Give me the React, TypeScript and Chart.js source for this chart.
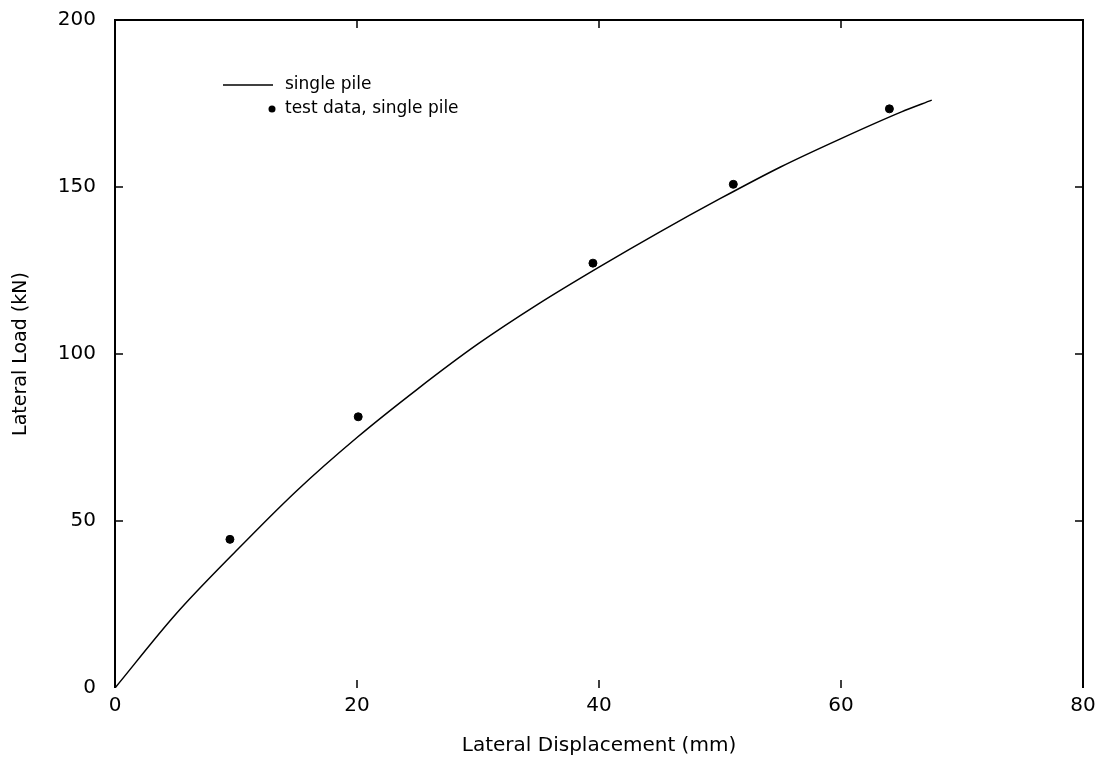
import React, { useEffect, useRef } from "react";
import { Chart, registerables } from "chart.js";

Chart.register(...registerables);

const curveX = [0, 5, 10, 15, 20, 25, 30, 35, 40, 45, 50, 55, 60, 65, 67.5];
const curveY = [0, 22, 41, 59, 75, 89.5, 103, 115, 126, 136.5, 146.5, 156, 164.5, 172.5, 176];
const testX = [9.5, 20.1, 39.5, 51.1, 64.0];
const testY = [44.5, 81.2, 127.2, 150.8, 173.4];
const xTicks = [0, 20, 40, 60, 80];
const yTicks = [0, 50, 100, 150, 200];
const seriesLabels = ["single pile", "test data, single pile"];
const xTitle = "Lateral Displacement (mm)";
const yTitle = "Lateral Load (kN)";

const FONT = "'DejaVu Sans', sans-serif";

const framePlugin = {
  id: "frame",
  afterDraw(chart: any) {
    const { ctx, chartArea } = chart;
    const xs = chart.scales.x;
    const ys = chart.scales.y;
    const { left, right, top, bottom } = chartArea;
    ctx.save();
    ctx.strokeStyle = "#000";
    ctx.lineWidth = 2;
    ctx.beginPath();
    ctx.moveTo(left, bottom);
    ctx.lineTo(left, top);
    ctx.lineTo(right, top);
    ctx.lineTo(right, bottom);
    ctx.stroke();
    ctx.lineWidth = 1.5;
    const t = 8;
    ctx.beginPath();
    for (const v of xTicks.slice(1, -1)) {
      const px = xs.getPixelForValue(v);
      ctx.moveTo(px, bottom);
      ctx.lineTo(px, bottom - t);
      ctx.moveTo(px, top);
      ctx.lineTo(px, top + t);
    }
    for (const v of yTicks.slice(1, -1)) {
      const py = ys.getPixelForValue(v);
      ctx.moveTo(left, py);
      ctx.lineTo(left + t, py);
      ctx.moveTo(right, py);
      ctx.lineTo(right - t, py);
    }
    ctx.stroke();

    // legend
    const lx = left + 108;
    const ly = top + 65;
    ctx.font = `17px ${FONT}`;
    ctx.fillStyle = "#000";
    ctx.textBaseline = "middle";
    ctx.textAlign = "left";
    ctx.lineWidth = 1.5;
    ctx.beginPath();
    ctx.moveTo(lx, ly);
    ctx.lineTo(lx + 50, ly);
    ctx.stroke();
    ctx.fillText(chart.data.datasets[0].label, lx + 62, ly);
    ctx.beginPath();
    ctx.arc(lx + 49, ly + 24, 3.5, 0, Math.PI * 2);
    ctx.fill();
    ctx.fillText(chart.data.datasets[1].label, lx + 62, ly + 24);
    ctx.restore();
  },
};

export default function App() {
  const ref = useRef<HTMLCanvasElement>(null);
  useEffect(() => {
    document.body.style.margin = "0";
    const chart = new Chart(ref.current!, {
      type: "scatter",
      data: {
        datasets: [
          {
            label: seriesLabels[0],
            data: curveX.map((x, i) => ({ x, y: curveY[i] })),
            showLine: true,
            borderColor: "#000",
            borderWidth: 1.5,
            pointRadius: 0,
            cubicInterpolationMode: "monotone",
          },
          {
            label: seriesLabels[1],
            data: testX.map((x, i) => ({ x, y: testY[i] })),
            showLine: false,
            backgroundColor: "#000",
            borderColor: "#000",
            pointRadius: 4,
          },
        ],
      },
      options: {
        animation: false,
        responsive: false,
        layout: { padding: { left: 0, right: 21, top: 20, bottom: 0 } },
        plugins: { legend: { display: false }, tooltip: { enabled: false } },
        scales: {
          x: {
            type: "linear",
            min: 0,
            max: 80,
            afterBuildTicks: (s: any) => {
              s.ticks = xTicks.map((v) => ({ value: v }));
            },
            afterFit: (s: any) => {
              s.height = 74;
              s.paddingLeft = 0;
              s.paddingRight = 0;
            },
            grid: { display: false, drawTicks: false },
            border: { display: false },
            ticks: { color: "#000", font: { family: FONT, size: 20 }, padding: 6, maxRotation: 0 },
            title: {
              display: true,
              text: xTitle,
              color: "#000",
              font: { family: FONT, size: 20 },
              padding: { top: 4, bottom: 4 },
            },
          },
          y: {
            type: "linear",
            min: 0,
            max: 200,
            afterBuildTicks: (s: any) => {
              s.ticks = yTicks.map((v) => ({ value: v }));
            },
            afterFit: (s: any) => {
              s.width = 115;
              s.paddingTop = 0;
              s.paddingBottom = 0;
            },
            grid: { display: false, drawTicks: false },
            border: { display: false },
            ticks: { color: "#000", font: { family: FONT, size: 20 }, padding: 19 },
            title: {
              display: true,
              text: yTitle,
              color: "#000",
              font: { family: FONT, size: 19 },
              padding: { top: 10, bottom: 4 },
            },
          },
        },
      },
      plugins: [framePlugin],
    });
    return () => chart.destroy();
  }, []);
  return (
    <div style={{ position: "absolute", left: 0, top: 0, width: 1104, height: 762, background: "#fff" }}>
      <canvas ref={ref} width={1104} height={762} style={{ width: 1104, height: 762 }} />
    </div>
  );
}
